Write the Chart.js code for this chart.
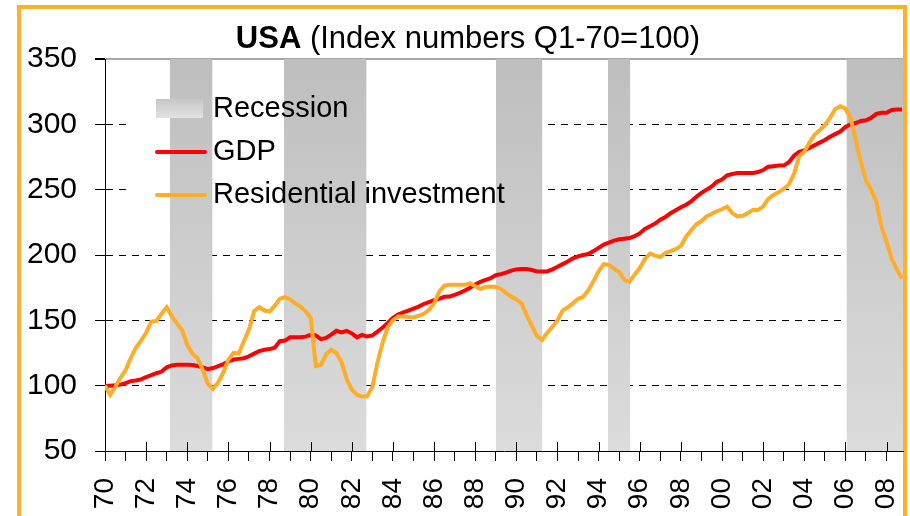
<!DOCTYPE html>
<html>
<head>
<meta charset="utf-8">
<script src="https://cdn.jsdelivr.net/npm/chart.js@4.4.1/dist/chart.umd.min.js"></script>
<style>
  body { margin: 0; background: #fff; }
  #wrap { position: relative; width: 910px; height: 516px; overflow: hidden; }
  #frame { position: absolute; left: 17px; top: 5px; width: 890px; height: 600px; box-sizing: border-box;
           border: 4px solid #ffb02a; border-bottom: none; }
  #titulo { position: absolute; left: 18px; top: 20px; width: 900px; text-align: center;
            font-family: "Liberation Sans", Arial, sans-serif; font-size: 31px; line-height: 36px; color: #000; }
  canvas { position: absolute; left: 0; top: 0; }
</style>
</head>
<body>
<div id="wrap">
  <div id="frame"></div>
  <canvas id="chartUSA" width="910" height="516"></canvas>
  <div id="titulo"><b>USA</b> (Index numbers Q1-70=100)</div>
</div>
<script>
const startYear = 1970; // quarterly data, Q1-1970 .. Q4-2008

const gdp = [
  100, 100, 100.3, 100.8,      // 70
  102, 103.5, 104, 104.8,      // 71
  106.5, 108, 109.5, 110.8,    // 72
  114, 115.5, 116, 116,        // 73
  116, 115.8, 115, 114,        // 74
  112.6, 113.5, 115, 116.5,    // 75
  118.5, 120, 120.5, 121,      // 76
  122.5, 124.5, 126.5, 127.5,  // 77
  128, 129, 134, 134.5,        // 78
  137, 137, 137, 137.5,        // 79
  138.9, 138.5, 135.6, 136.5,  // 80
  139, 142, 140.7, 142,        // 81
  140, 137, 138.9, 137.6,      // 82
  138.5, 141.4, 144.5, 148,    // 83
  152, 154.5, 156, 157.5,      // 84
  159, 160.5, 162.5, 164,      // 85
  165.5, 166.5, 168, 168.2,    // 86
  169.5, 171, 172.8, 175,      // 87
  177.5, 179.5, 181, 182.3,    // 88
  184.5, 185.4, 186.5, 188,    // 89
  189, 189.2, 189.2, 188.5,    // 90
  187.4, 187.4, 187.4, 189,    // 91
  191, 193, 195, 197.5,        // 92
  199, 200, 200.7, 203,        // 93
  205.5, 208, 209.5, 211,      // 94
  212, 212.5, 213, 214.5,      // 95
  216.5, 220, 222, 224,        // 96
  227, 229.1, 232, 234.2,      // 97
  236.5, 238.5, 241, 244.5,    // 98
  247.5, 250, 252.5, 256,      // 99
  257.7, 261, 262, 262.8,      // 00
  262.8, 262.8, 262.8, 263.5,  // 01
  265, 267.5, 268, 268.4,      // 02
  268.4, 271, 276, 279,        // 03
  280, 282, 284, 286,          // 04
  288, 290.5, 292.5, 294.5,    // 05
  298, 300, 301, 302.5,        // 06
  303.1, 304.9, 308, 308.8,    // 07
  308.8, 311, 311.3, 311.3     // 08
];

const residencial = [
  100, 93, 99, 106,            // 70
  112, 121, 129, 134.5,        // 71
  140.5, 149, 149.5, 155,      // 72
  160, 153, 147.5, 142.5,      // 73
  131, 124.5, 121, 112,        // 74
  101.5, 97.5, 102.5, 110,     // 75
  120, 125, 124.5, 134,        // 76
  143, 157, 160, 157.5,        // 77
  156.7, 161, 166.5, 167.8,    // 78
  166, 163, 160.5, 157,        // 79
  152, 115, 116, 124,          // 80
  127.5, 125, 118, 105,        // 81
  97, 93, 91.6, 92,            // 82
  99, 118, 133, 145,           // 83
  150, 153, 152.9, 152.5,      // 84
  152.4, 153.5, 155, 158,      // 85
  163, 172, 176.5, 177.2,      // 86
  177.2, 177.2, 177.2, 178.5,  // 87
  176, 174, 175.5, 175.9,      // 88
  175.5, 174, 171, 168,        // 89
  166, 163, 154, 146,          // 90
  138, 135, 140.5, 145,        // 91
  150, 157.5, 160, 163,        // 92
  166.5, 168, 173, 180,        // 93
  187.5, 193, 192.5, 189.5,    // 94
  187, 181, 179.5, 185,        // 95
  190, 197, 201, 199.5,        // 96
  198.5, 201.5, 203, 204.5,    // 97
  207, 214, 219, 223.5,        // 98
  226, 229.5, 231.5, 233.5,    // 99
  235, 237, 232, 229.5,        // 00
  230, 232, 234.5, 234.5,      // 01
  237, 243, 246, 248,          // 02
  250.5, 254, 262, 275.5,      // 03
  279, 286, 292, 295.5,        // 04
  299.5, 305, 311.5, 313.8,    // 05
  312, 305, 288, 271,          // 06
  257, 250, 241, 222,          // 07
  210, 197, 189, 182           // 08
];

// recession shading (start / end, in years)
const recessaoInicio = [1973.15, 1978.7, 1989.0, 1994.45, 2006.05];
const recessaoFim    = [1975.23, 1982.72, 1991.27, 1995.54, 2008.8];

const anoLabels = ["70", "72", "74", "76", "78", "80", "82", "84", "86", "88",
                   "90", "92", "94", "96", "98", "00", "02", "04", "06", "08"];
const yTicks = [50, 100, 150, 200, 250, 300, 350];

const FONTE = '"Liberation Sans", Arial, sans-serif';
const LARANJA = "#ffad29";
const VERMELHO = "#ff0000";

function gradienteCinza(chart) {
  const a = chart.chartArea;
  if (!a) return "#cccccc";
  const g = chart.ctx.createLinearGradient(0, a.top, 0, a.bottom);
  g.addColorStop(0, "#bebebe");
  g.addColorStop(1, "#dcdcdc");
  return g;
}

const toPontos = arr => arr.map((v, i) => ({ x: startYear + i / 4, y: v }));

const datasets = [
  {
    label: "Residential investment",
    data: toPontos(residencial),
    borderColor: LARANJA,
    borderWidth: 4,
    pointRadius: 0,
    tension: 0,
    order: 0
  },
  {
    label: "GDP",
    data: toPontos(gdp),
    borderColor: VERMELHO,
    borderWidth: 4,
    pointRadius: 0,
    tension: 0,
    order: 1
  }
];

recessaoInicio.forEach((ini, k) => {
  datasets.push({
    label: "Recession",
    data: [{ x: ini, y: yTicks[yTicks.length - 1] }, { x: recessaoFim[k], y: yTicks[yTicks.length - 1] }],
    borderWidth: 0,
    borderColor: "rgba(0,0,0,0)",
    backgroundColor: c => gradienteCinza(c.chart),
    fill: "start",
    pointRadius: 0,
    order: 10
  });
});

// legend (white box hides the grid behind it) + inner half of the major x ticks
const extras = {
  id: "extras",
  beforeDatasetsDraw(chart) {
    const ctx = chart.ctx;
    ctx.save();
    ctx.fillStyle = "#fff";
    ctx.fillRect(126, 80, 422, 140);
    ctx.restore();
  },
  afterDraw(chart) {
    const ctx = chart.ctx;
    const x = chart.scales.x;
    const bottom = chart.chartArea.bottom;
    ctx.save();
    ctx.strokeStyle = "#000";
    ctx.lineWidth = 1;
    for (let ano = startYear; ano <= 2008; ano += 2) {
      const px = Math.round(x.getPixelForValue(ano)) + 0.5;
      ctx.beginPath();
      ctx.moveTo(px, bottom - 9);
      ctx.lineTo(px, bottom);
      ctx.stroke();
    }

    const g = ctx.createLinearGradient(0, 99, 0, 118);
    g.addColorStop(0, "#c6c6c6");
    g.addColorStop(1, "#e2e2e2");
    ctx.fillStyle = g;
    ctx.fillRect(156, 99, 47, 19);

    ctx.lineWidth = 4;
    ctx.lineCap = "round";
    ctx.strokeStyle = VERMELHO;
    ctx.beginPath(); ctx.moveTo(157, 152); ctx.lineTo(205, 152); ctx.stroke();
    ctx.strokeStyle = LARANJA;
    ctx.beginPath(); ctx.moveTo(157, 195); ctx.lineTo(205, 195); ctx.stroke();

    ctx.fillStyle = "#000";
    ctx.font = "29px " + FONTE;
    ctx.textBaseline = "middle";
    ctx.textAlign = "left";
    ctx.fillText("Recession", 213, 109);
    ctx.fillText("GDP", 213, 152);
    ctx.fillText("Residential investment", 213, 195);
    ctx.restore();
  }
};

new Chart(document.getElementById("chartUSA"), {
  type: "line",
  data: { datasets: datasets },
  options: {
    responsive: false,
    animation: false,
    layout: { padding: { top: 59, right: 7, left: 0, bottom: 0 } },
    plugins: {
      legend: { display: false },
      tooltip: { enabled: false },
      title: { display: false }
    },
    scales: {
      x: {
        type: "linear",
        min: startYear,
        max: 2008.8,
        afterFit: s => { s.height = 65; s.paddingLeft = 0; s.paddingRight = 0; },
        grid: { drawOnChartArea: false, tickLength: 10, color: "#000" },
        border: { color: "#000", width: 1 },
        ticks: {
          stepSize: 1,
          autoSkip: false,
          includeBounds: false,
          maxRotation: 90,
          minRotation: 90,
          padding: 17,
          color: "#000",
          font: { family: FONTE, size: 28 },
          callback: v => (v % 2 === 0 ? anoLabels[(v - startYear) / 2] : "")
        }
      },
      y: {
        min: yTicks[0],
        max: yTicks[yTicks.length - 1],
        afterFit: s => { s.width = 105; s.paddingTop = 0; s.paddingBottom = 0; },
        grid: {
          tickLength: 10,
          tickColor: "#000",
          color: c => (c.tick.value === 50 ? "rgba(0,0,0,0)" : c.tick.value === 350 ? "#a6a6a6" : "#000"),
          lineWidth: c => (c.tick.value === 350 ? 2 : 1)
        },
        border: {
          color: "#000",
          width: 1,
          dash: c => (c.tick && c.tick.value === 350 ? [] : [7, 6])
        },
        ticks: {
          stepSize: 50,
          padding: 18,
          color: "#000",
          font: { family: FONTE, size: 30 },
          callback: v => (yTicks.includes(v) ? String(v) : "")
        }
      }
    }
  },
  plugins: [extras]
});
</script>
</body>
</html>
